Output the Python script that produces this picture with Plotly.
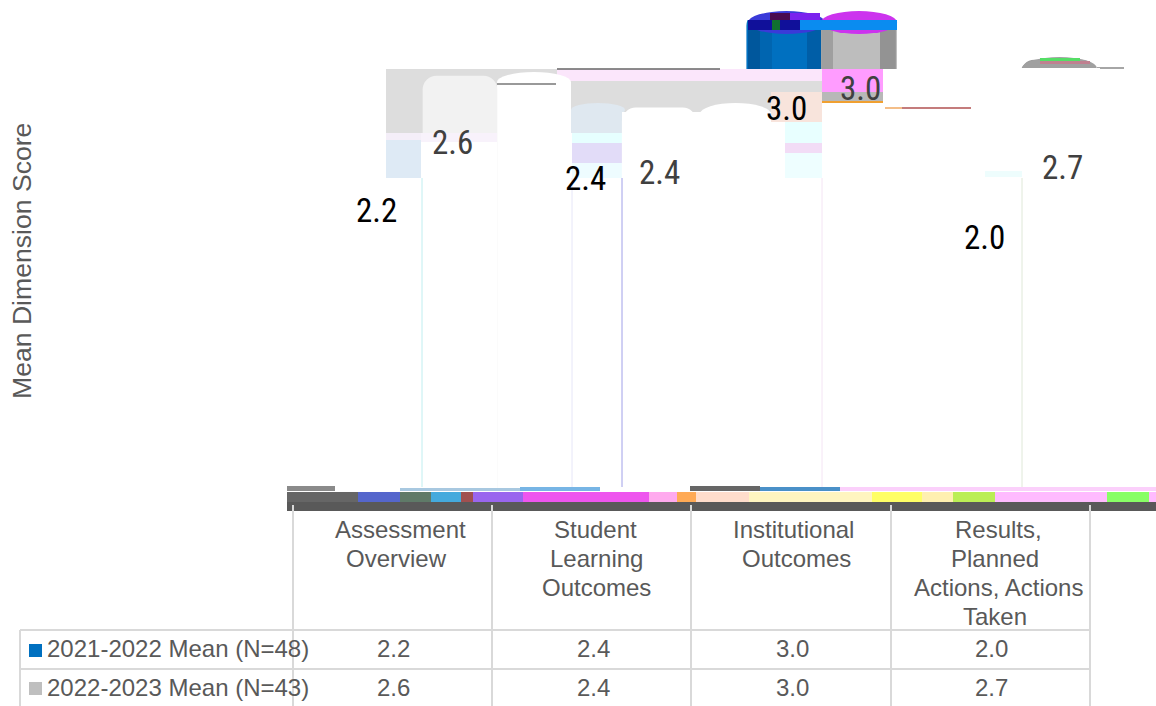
import plotly.graph_objects as go

categories = ["Assessment Overview", "Student Learning Outcomes", "Institutional Outcomes", "Results, Planned Actions, Actions Taken"]
category_lines = [["Assessment", "Overview"], ["Student", "Learning", "Outcomes"], ["Institutional", "Outcomes"], ["Results,", "Planned", "Actions, Actions", "Taken"]]
series_names = ["2021-2022 Mean (N=48)", "2022-2023 Mean (N=43)"]
mean_2021 = [2.2, 2.4, 3.0, 2.0]
mean_2022 = [2.6, 2.4, 3.0, 2.7]

W, H = 1156, 706
L, R, T, B = 323, 36, 12, 216
CLEAR = "rgba(255,255,255,0)"
TEXT = "#595959"
GRID = "#d9d9d9"


def xp(px):
    return (px - L) / (W - L - R)


def yp(py):
    return 1 - (py - T) / (H - T - B)


def rect(x0, y0, x1, y1, color, layer="below"):
    return dict(type="rect", xref="paper", yref="paper", x0=xp(x0), x1=xp(x1), y0=yp(y0), y1=yp(y1),
                fillcolor=color, line=dict(width=0), layer=layer)


def oval(x0, y0, x1, y1, color, layer="below"):
    return dict(type="circle", xref="paper", yref="paper", x0=xp(x0), x1=xp(x1), y0=yp(y0), y1=yp(y1),
                fillcolor=color, line=dict(width=0), layer=layer)


def line(x0, y0, x1, y1, color=GRID, width=2, layer="above"):
    return dict(type="line", xref="paper", yref="paper", x0=xp(x0), x1=xp(x1), y0=yp(y0), y1=yp(y1),
                line=dict(color=color, width=width), layer=layer)


fig = go.Figure()
fig.add_bar(x=categories, y=mean_2021, name=series_names[0],
            marker=dict(color=[CLEAR, CLEAR, "#0070C0", CLEAR], line=dict(width=0)))
fig.add_bar(x=categories, y=mean_2022, name=series_names[1],
            marker=dict(color=["#f2f2f2", "#ffffff", "#bdbdbd", "#9a9a9a"], line=dict(width=0)))

shapes = [
    # pale wall behind the cylinders
    rect(386, 69, 822, 133, "#dddddd"),
    rect(557, 69, 822, 81, "#fbe6fb"),
    rect(386, 133, 423, 140, "#f4eef8"),
    rect(386, 140, 423, 178, "#deeaf5"),
    rect(572, 133, 622, 143, "#e6ffff"),
    rect(572, 143, 622, 163, "#e2dcf8"),
    rect(572, 163, 622, 178, "#eefcff"),
    rect(571, 110, 622, 133, "#dfe8f0"),
    oval(571, 103, 625, 117, "#dfe8f0"),
    # white shapes on the wall
    oval(497, 72, 571, 92, "#ffffff"),
    rect(497, 82, 571, 178, "#ffffff"),
    oval(700, 103, 771, 125, "#ffffff"),
    rect(700, 112, 771, 178, "#ffffff"),
    rect(771, 122, 785, 178, "#ffffff"),
    oval(423, 136, 560, 160, "#ffffff"),
    rect(423, 145, 572, 178, "#ffffff"),
    # thin streaks
    line(497, 84, 556, 84, "#777777", 1.5, "below"),
    # covers over the lower part of the bars
    rect(421, 133, 497, 142, "#f8f2fb", "above"),
    rect(421, 142, 497, 490, "#ffffff", "above"),
    rect(700, 69, 899, 490, "#ffffff", "above"),
    rect(1019, 69, 1099, 490, "#ffffff", "above"),
    rect(622, 112, 700, 178, "#ffffff", "above"),
    rect(700, 69, 771, 112, "#dddddd", "above"),
    oval(700, 103, 771, 125, "#ffffff", "above"),
    rect(700, 69, 771, 81, "#fbe6fb", "above"),
    rect(771, 69, 822, 81, "#fbe6fb", "above"),
    rect(771, 81, 822, 92, "#dddddd", "above"),
    rect(771, 92, 822, 122, "#f8e4dc", "above"),
    rect(785, 122, 822, 143, "#e8ffff", "above"),
    rect(785, 143, 822, 153, "#f2dcf6", "above"),
    rect(785, 153, 822, 178, "#eefeff", "above"),
    rect(822, 69, 883, 92, "#ff9cff", "above"),
    rect(822, 92, 883, 102, "#b8b8b8", "above"),
    rect(822, 101, 883, 103, "#f0a030", "above"),
    line(885, 108, 902, 108, "#f0a860", 1.5),
    line(902, 108, 971, 108, "#b05050", 1.5),
    line(557, 69, 720, 69, "#666666", 1.5),
    line(1097, 68, 1124, 68, "#888888", 1.5),
    rect(985, 171, 1022, 177, "#eefdfd", "above"),
    # tinted cylinder shading
    rect(748, 30, 760, 69, "rgba(0,40,90,0.35)", "above"),
    rect(760, 30, 772, 69, "rgba(0,40,90,0.15)", "above"),
    rect(807, 30, 821, 69, "rgba(0,40,90,0.25)", "above"),
    rect(821, 30, 833, 69, "rgba(70,70,70,0.25)", "above"),
    rect(880, 30, 897, 69, "rgba(70,70,70,0.35)", "above"),
    # broken tops of the tallest cylinders
    rect(746, 8, 899, 20, "#ffffff", "above"),
    oval(748, 11, 825, 34, "#3a3ad8", "above"),
    oval(821, 11, 897, 34, "#cc33ee", "above"),
    rect(748, 20, 897, 30, "#0a8cf0", "above"),
    rect(748, 20, 800, 30, "#10109a", "above"),
    rect(770, 13, 790, 20, "#4a0a50", "above"),
    rect(790, 13, 820, 20, "#7a22ee", "above"),
    rect(772, 20, 780, 30, "#107030", "above"),
    oval(1022, 57, 1097, 80, "#a0a0a0", "above"),
    rect(1019, 68, 1100, 90, "#ffffff", "above"),
    rect(1040, 58, 1080, 61, "#55dd66", "above"),
    rect(1040, 61, 1090, 64, "#c08090", "above"),
    # fine coloured edges
    line(422, 178, 422, 487, "#bfeef0", 1),
    line(572, 178, 572, 487, "#e6e6f8", 1),
    line(622, 178, 622, 487, "#a0a0e8", 1),
    line(822, 178, 822, 487, "#f4e4f4", 1),
    line(1022, 178, 1022, 487, "#dfe8d8", 1),
]

# broken strip along the axis: segments as (x0, x1, colour)
strip = [(287, 358, "#666666"), (358, 400, "#5566cc"), (400, 431, "#5f7a68"), (431, 461, "#44aadd"),
         (461, 473, "#a05050"), (473, 523, "#9966ee"), (523, 649, "#ee55ee"), (649, 677, "#ffaaee"),
         (677, 696, "#ffaa55"), (696, 749, "#ffddcc"), (749, 872, "#fff5c0"), (872, 922, "#ffff66"),
         (922, 953, "#fff0b0"), (953, 995, "#bbee55"), (995, 1107, "#ffbbff"), (1107, 1149, "#88ff66"),
         (1149, 1156, "#ffbbff")]
for a, b, c in strip:
    shapes.append(rect(a, 492, b, 502, c, "above"))
shapes.append(rect(287, 502, 1156, 511, "#595959", "above"))
shapes += [
    rect(287, 486, 335, 491, "#8a8a8a", "above"),
    rect(400, 488, 520, 491, "#a8c8e0", "above"),
    rect(520, 487, 600, 491, "#77b5e5", "above"),
    rect(690, 486, 760, 491, "#666666", "above"),
    rect(760, 487, 840, 491, "#4a90c8", "above"),
    rect(840, 487, 1156, 491, "#fbd0fb", "above"),
]

# data table grid
for x in (293, 492, 691, 891, 1090):
    shapes.append(line(x, 505, x, 706))
shapes += [line(20, 630, 1090, 630), line(20, 669, 1090, 669), line(20, 630, 20, 706),
           rect(29, 644, 42, 657, "#0070C0", "above"), rect(29, 682, 42, 695, "#BFBFBF", "above")]

ann = []


def label(x, y, text, size=24, color=TEXT, anchor="center", **kw):
    ann.append(dict(xref="paper", yref="paper", x=xp(x), y=yp(y), text=text, showarrow=False,
                    xanchor=anchor, yanchor="middle", font=dict(size=size, color=color,
                    family="Liberation Sans, Arial, sans-serif"), **kw))


label(22, 261, "Mean Dimension Score", size=26.6, textangle=-90)
line_x = [[400, 396], [595, 596, 596], [793, 796], [998, 995, 998, 995]]
cell_x = [393, 593, 792, 991]
for xs, lines in zip(line_x, category_lines):
    for i, (cx, t) in enumerate(zip(xs, lines)):
        label(cx, 529 + 29 * i, t)
for y, name, vals in ((648, series_names[0], mean_2021), (687, series_names[1], mean_2022)):
    label(45, y, name, anchor="left")
    for cx, v in zip(cell_x, vals):
        label(cx, y, f"{v:.1f}")

# value labels, tied to the bars through the data axes
offs_2021 = [(-9, -71), (1, -71), (3, -96), (2, -66)]
offs_2022 = [(-8, -67), (0, -65), (2, -76), (5, -108)]
BAR_SHIFT = 37.5
for vals, offs, sign, col in ((mean_2021, offs_2021, -1, "#000000"), (mean_2022, offs_2022, 1, "#404040")):
    for c, v, (dx, dy) in zip(categories, vals, offs):
        ann.append(dict(xref="x", yref="y", x=c, y=v, text=f"{v:.1f}", showarrow=False,
                        xshift=sign * BAR_SHIFT + dx, yshift=dy, xanchor="center", yanchor="middle",
                        font=dict(size=33, color=col,
                                  family="Liberation Sans Narrow, Roboto Condensed, Liberation Sans, sans-serif")))

fig.update_layout(
    width=W, height=H, autosize=False,
    margin=dict(l=L, r=R, t=T, b=B, pad=0),
    barmode="group", bargap=0.25, bargroupgap=0, barcornerradius=14,
    showlegend=False,
    plot_bgcolor="#ffffff", paper_bgcolor="#ffffff",
    xaxis=dict(type="category", categoryorder="array", categoryarray=categories,
               range=[-0.5, 3.5], showticklabels=False, ticks="", showgrid=False, zeroline=False, showline=False),
    yaxis=dict(range=[0, 3], showticklabels=False, ticks="", showgrid=False, zeroline=False, showline=False),
    shapes=shapes, annotations=ann,
)
fig.write_html("out.html", config={"displayModeBar": False},
               post_script="document.body.style.margin='0';document.body.style.overflow='hidden';")
